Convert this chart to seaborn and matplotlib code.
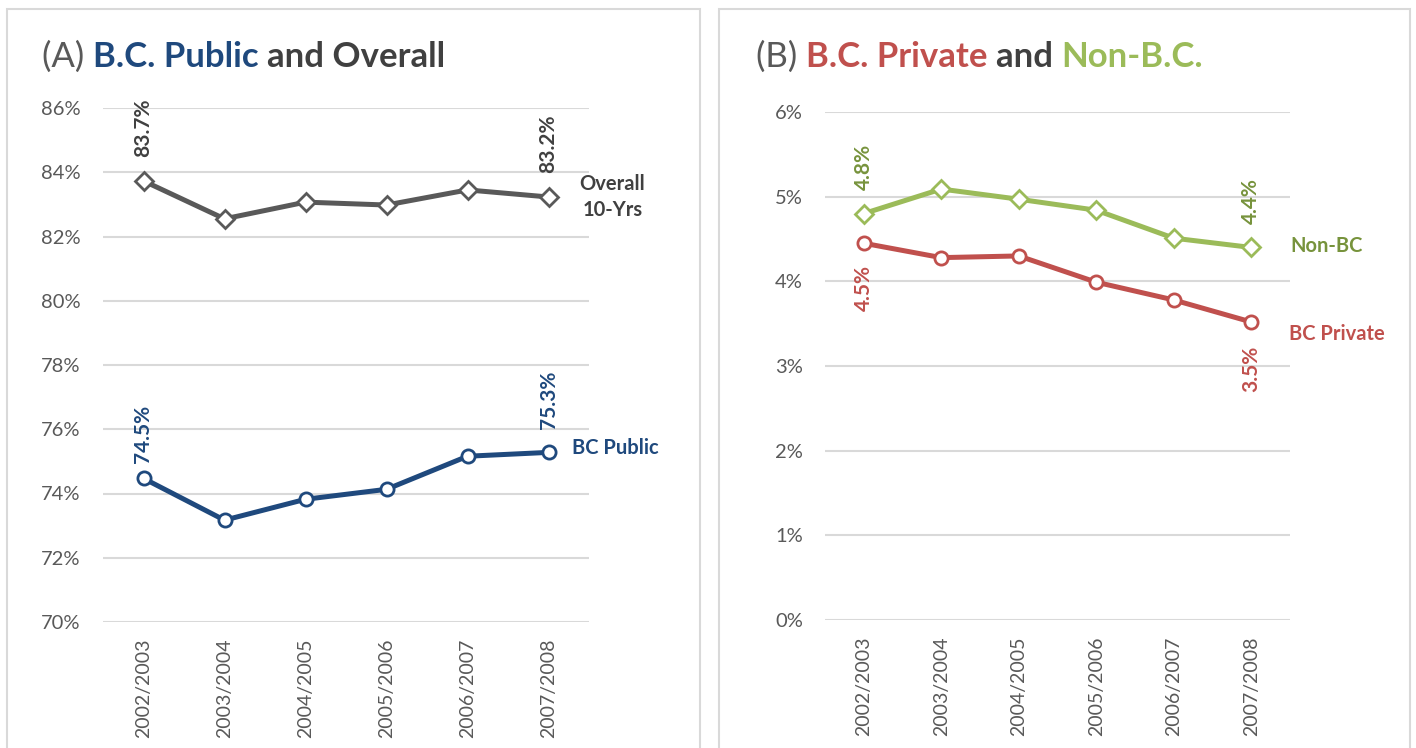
import matplotlib
matplotlib.use("Agg")
import matplotlib.pyplot as plt
import matplotlib.patches as mpatches
import pandas as pd
import seaborn as sns

# ----------------------------------------------------------------------------------
# Data

years = ["2002/2003", "2003/2004", "2004/2005", "2005/2006", "2006/2007", "2007/2008"]

overall = [83.73, 82.55, 83.07, 82.98, 83.45, 83.23]
bc_public = [74.47, 73.17, 73.82, 74.13, 75.16, 75.28]

non_bc = [4.80, 5.09, 4.97, 4.84, 4.51, 4.40]
bc_private = [4.45, 4.28, 4.30, 3.99, 3.78, 3.52]

ticks_a = [70, 72, 74, 76, 78, 80, 82, 84, 86]
ticks_b = [0, 1, 2, 3, 4, 5, 6]

# ----------------------------------------------------------------------------------
# Style

sns.set_theme(style="white")
plt.rcParams["font.family"] = ["Lato", "DejaVu Sans"]

GRAY = "#595959"
DARK = "#404040"
BLUE = "#1F497D"
RED = "#C0504D"
GREEN = "#9BBB59"
DKGREEN = "#77933C"
GRID = "#D9D9D9"

fig = plt.figure(figsize=(14.16, 7.48), dpi=100)
fig.patch.set_facecolor("white")

# panel borders
for x0, x1 in [(7, 700), (719, 1410)]:
    fig.patches.append(mpatches.Rectangle(
        (x0 / 1416, -0.02), (x1 - x0) / 1416, (748 - 9) / 748 + 0.02,
        transform=fig.transFigure, fill=False, edgecolor=GRID, lw=1.5))

ax_a = fig.add_axes([103 / 1416, 126 / 748, 486 / 1416, 514 / 748])
ax_b = fig.add_axes([825 / 1416, 128 / 748, 465 / 1416, 508 / 748])


def draw_series(ax, values, color, marker):
    df = pd.DataFrame({"year": years, "value": values})
    sns.lineplot(data=df, x="year", y="value", ax=ax, color=color, lw=3.6,
                 marker=marker, markersize=9.5 if marker == "o" else 9,
                 markerfacecolor="white", markeredgecolor=color,
                 markeredgewidth=2, sort=False, zorder=3)


def end_labels(ax, values, color, above=True, gaps=(17, 17)):
    for i, gap in zip([0, len(values) - 1], gaps):
        v = values[i]
        ax.annotate(f"{v:.1f}%", xy=(i, v), xytext=(0, gap if above else -gap),
                    textcoords="offset points", rotation=90, ha="center",
                    va="bottom" if above else "top", color=color,
                    fontsize=15, fontweight="bold", annotation_clip=False)


def style_axes(ax, ticks):
    ax.set_xlim(-0.5, len(years) - 0.5)
    ax.set_ylim(ticks[0], ticks[-1])
    ax.set_yticks(ticks)
    ax.set_yticklabels([f"{t}%" for t in ticks])
    ax.set_xlabel("")
    ax.set_ylabel("")
    ax.yaxis.grid(True, color=GRID, lw=1.5)
    ax.xaxis.grid(False)
    for s in ax.spines.values():
        s.set_visible(False)
    ax.tick_params(axis="y", length=0, pad=16, labelsize=14.5, labelcolor=GRAY)
    ax.tick_params(axis="x", length=0, pad=12, labelsize=14, labelcolor=GRAY,
                   labelrotation=90)
    ax.set_axisbelow(True)


# ----------------------------------
# (A)
draw_series(ax_a, overall, GRAY, "D")
draw_series(ax_a, bc_public, BLUE, "o")
style_axes(ax_a, ticks_a)
end_labels(ax_a, overall, DARK, gaps=(17, 17))
end_labels(ax_a, bc_public, BLUE, gaps=(11, 17))
ax_a.annotate("Overall\n10-Yrs", xy=(5, overall[-1]), xytext=(46, 0),
              textcoords="offset points", ha="center", va="center",
              color=DARK, fontsize=14.5, fontweight="bold", linespacing=1.4,
              annotation_clip=False)
ax_a.annotate("BC Public", xy=(5, bc_public[-1]), xytext=(17, 3),
              textcoords="offset points", ha="left", va="center",
              color=BLUE, fontsize=14.5, fontweight="bold", annotation_clip=False)

# ----------------------------------
# (B)
draw_series(ax_b, non_bc, GREEN, "D")
draw_series(ax_b, bc_private, RED, "o")
style_axes(ax_b, ticks_b)
end_labels(ax_b, non_bc, DKGREEN)
end_labels(ax_b, bc_private, RED, above=False, gaps=(16, 17))
ax_b.annotate("Non-BC", xy=(5, non_bc[-1]), xytext=(28, 1),
              textcoords="offset points", ha="left", va="center",
              color=DKGREEN, fontsize=14.5, fontweight="bold", annotation_clip=False)
ax_b.annotate("BC Private", xy=(5, bc_private[-1]), xytext=(27, -9),
              textcoords="offset points", ha="left", va="center",
              color=RED, fontsize=14.5, fontweight="bold", annotation_clip=False)

# ----------------------------------
# titles (multi-coloured pieces placed one after another)
fig.canvas.draw()
renderer = fig.canvas.get_renderer()


def title(x_px, y_px, parts):
    x = x_px
    for text, color, weight in parts:
        t = fig.text(x / 1416, 1 - y_px / 748, text, color=color, fontsize=25,
                     fontweight=weight, va="baseline", ha="left")
        x += t.get_window_extent(renderer).width


title(42, 67, [("(A) ", GRAY, "normal"), ("B.C. Public ", BLUE, "bold"),
               ("and Overall", DARK, "bold")])
title(756, 67, [("(B) ", GRAY, "normal"), ("B.C. Private ", RED, "bold"),
                ("and ", DARK, "bold"), ("Non-B.C.", GREEN, "bold")])

fig.savefig("out.png", dpi=100, facecolor="white")
